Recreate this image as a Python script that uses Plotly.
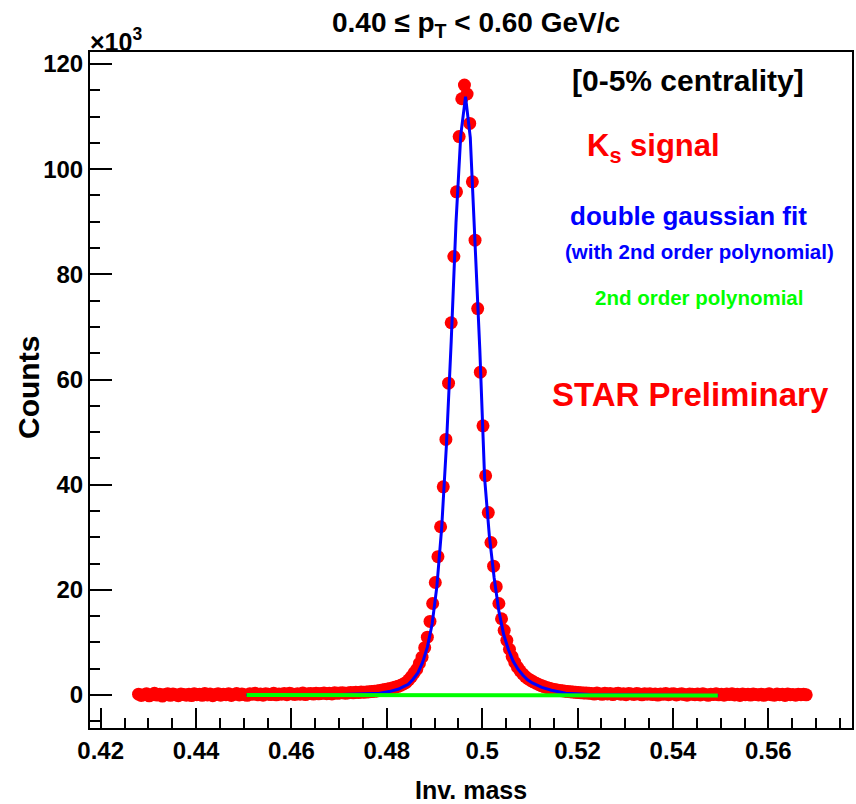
import numpy as np
import plotly.graph_objects as go

# ---------------- data ----------------
mass_start = 0.42794          # centre of first histogram bin (GeV/c^2)
bin_width = 0.2 / 360         # histogram bin width

counts = [
    # baseline, left side
    150, -80, 60, 220, -150, 40, 310, -20, 120, -200, 90, 250, -60, 180, 30, -140, 200, 80, -30, 160,
    -100, 240, 50, 130, -70, 300, 20, 170, -120, 90, 260, -40, 140, 60, 220, -90, 110, 280, 0, 190,
    70, -60, 230, 120, 320, 40, 180, -30, 260, 150, 90, 350, 30, 210, 140, 280, 60, 330, 190, 100,
    260, 160, 380, 90, 240, 300, 180, 350, 220, 290, 400, 250, 330, 200, 420, 310, 380, 450, 330, 400,
    480, 420, 520, 470, 560, 530,
    # left tail
    550, 600, 650, 700, 780, 850, 950, 1050, 1150, 1250, 1380, 1500, 1650, 1850, 2100, 2400, 2900, 3500,
    4200, 4900, 6000, 7200, 9000, 11000,
    # peak
    14000, 17400, 21400, 26300, 32000, 39600, 48600, 59300, 70800, 83400, 95700, 106200, 113400, 116000,
    114300, 108700, 97600, 86500, 73500, 61400, 51200, 41700, 34700, 29000, 24500, 20600, 17400,
    # right tail
    14500, 12300, 10400, 8700, 7300, 6200, 5300, 4600, 4000, 3500, 3100, 2800, 2500, 2250, 2000, 1800,
    1600, 1450, 1300, 1150, 1050, 950, 850, 800, 720, 660, 600, 550, 500, 460, 420, 400, 360, 340,
    # baseline, right side
    300, 180, 360, 240, 120, 320, 200, 280, 90, 250, 330, 150, 220, 60, 280, 190, 110, 300, 170, 40,
    230, 140, 260, 80, 190, -20, 210, 120, 300, 60, 170, 240, 20, 150, 260, 90, -40, 200, 130, 70,
    180, 10, 240, 110, -60, 160, 90, 220, 30, 140, -30, 190, 80, 250, 20, 120, -80, 170, 60, 130,
    -20, 200, 90, 10, 150, -60, 110, 240, 40, -40, 170, 70, 130, -90, 210, 50, 100, -30, 160, 60, 120, 40,
]
mass = mass_start + bin_width * np.arange(len(counts))

# double gaussian + pol2 fit curve
fit_mass = [0.4505, 0.4605, 0.4705, 0.4755, 0.4785, 0.4805, 0.4815, 0.4825, 0.4835, 0.4845, 0.4855,
            0.4865, 0.4875, 0.4885, 0.4895, 0.4905, 0.4915, 0.4925, 0.4935, 0.4945, 0.4955, 0.4965,
            0.4975, 0.4985, 0.4995, 0.5005, 0.5015, 0.5025, 0.5035, 0.5045, 0.5055, 0.5065, 0.5075,
            0.5085, 0.5095, 0.5105, 0.5125, 0.5145, 0.5175, 0.5225, 0.5305, 0.5405, 0.5495]
fit_counts = [0, 30, 100, 220, 320, 650, 840, 1140, 1600, 2050, 3000,
              4200, 6200, 9100, 13500, 20700, 31800, 47600, 67300, 89800, 106500, 113800,
              106000, 86500, 65600, 41300, 30200, 22300, 15900, 11500, 8600, 6400, 4900,
              3800, 2900, 2300, 1450, 900, 350, 80, 0, -50, -100]

# 2nd order polynomial background
bkg_mass = [0.4506, 0.5000, 0.5494]
bkg_counts = [0, -40, -100]

x_tickvals = [0.42, 0.44, 0.46, 0.48, 0.50, 0.52, 0.54, 0.56]
x_ticktext = ["0.42", "0.44", "0.46", "0.48", "0.5", "0.52", "0.54", "0.56"]
y_tickvals = [0, 20000, 40000, 60000, 80000, 100000, 120000]
y_ticktext = ["0", "20", "40", "60", "80", "100", "120"]

# ---------------- figure ----------------
FONT = "Liberation Sans, Arial, Helvetica, sans-serif"

fig = go.Figure()
fig.add_trace(go.Scatter(x=mass, y=counts, mode="markers",
                         marker=dict(symbol="circle", size=13, color="#ff0000", line=dict(width=0)),
                         showlegend=False))
fig.add_trace(go.Scatter(x=fit_mass, y=fit_counts, mode="lines",
                         line=dict(color="#0000ff", width=3), showlegend=False))
fig.add_trace(go.Scatter(x=bkg_mass, y=bkg_counts, mode="lines",
                         line=dict(color="#00ff00", width=4), showlegend=False))

W, H = 856, 804
L, R, T, B = 90, 4, 52, 76
pw, ph = W - L - R, H - T - B


def px(xp):
    return (xp - L) / pw


def py(yp):
    return (H - B - yp) / ph


axis_common = dict(showline=True, linecolor="black", linewidth=2, mirror=True,
                   showgrid=False, zeroline=False, ticks="inside", tickcolor="black",
                   tickwidth=2)

fig.update_xaxes(range=[0.417756, 0.57754], tickmode="array", tickvals=x_tickvals,
                 ticktext=x_ticktext, ticklen=20,
                 tickfont=dict(family=FONT, size=24, color="black", weight="bold"),
                 minor=dict(ticks="inside", ticklen=10, tickwidth=2, tickcolor="black",
                            dtick=0.005, tick0=0.42, showgrid=False),
                 **axis_common)
fig.update_yaxes(range=[-6276, 122290], tickmode="array", tickvals=y_tickvals,
                 ticktext=y_ticktext, ticklen=22,
                 tickfont=dict(family=FONT, size=24, color="black", weight="bold"),
                 minor=dict(ticks="inside", ticklen=10, tickwidth=2, tickcolor="black",
                            dtick=5000, tick0=0, showgrid=False),
                 **axis_common)

ann = []
ann.append(dict(text="<b>0.40 ≤ p<sub>T</sub> &lt; 0.60 GeV/c</b>", x=px(476), y=py(24),
                font=dict(family=FONT, size=28, color="black")))
ann.append(dict(text="<b>×10<sup>3</sup></b>", x=px(88), y=py(40), xanchor="left",
                font=dict(family=FONT, size=25, color="black")))
ann.append(dict(text="<b>Counts</b>", x=px(28), y=py(388), textangle=-90,
                font=dict(family=FONT, size=30, color="black")))
ann.append(dict(text="<b>Inv. mass</b>", x=px(471), y=py(790),
                font=dict(family=FONT, size=25, color="black")))
ann.append(dict(text="<b>[0-5% centrality]</b>", x=px(688), y=py(80),
                font=dict(family=FONT, size=30, color="black")))
ann.append(dict(text="<b>K<sub>s</sub> signal</b>", x=px(585), y=py(148), xanchor="left",
                font=dict(family=FONT, size=31, color="#ff0000")))
ann.append(dict(text="<b>double gaussian fit</b>", x=px(688), y=py(216),
                font=dict(family=FONT, size=26, color="#0000ff")))
ann.append(dict(text="<b>(with 2nd order polynomial)</b>", x=px(699), y=py(252),
                font=dict(family=FONT, size=20.5, color="#0000ff")))
ann.append(dict(text="<b>2nd order polynomial</b>", x=px(699), y=py(297),
                font=dict(family=FONT, size=20.5, color="#00ff00")))
ann.append(dict(text="<b>STAR Preliminary</b>", x=px(690), y=py(394),
                font=dict(family=FONT, size=33, color="#ff0000")))
for a in ann:
    a.setdefault("xanchor", "center")
    a.update(xref="paper", yref="paper", yanchor="middle", showarrow=False)
fig.update_layout(annotations=ann)

fig.update_layout(width=W, height=H, margin=dict(l=L, r=R, t=T, b=B, autoexpand=False),
                  paper_bgcolor="white", plot_bgcolor="white", showlegend=False)

fig.write_html("out.html", config={"displayModeBar": False},
               post_script="document.body.style.margin='0px';")
